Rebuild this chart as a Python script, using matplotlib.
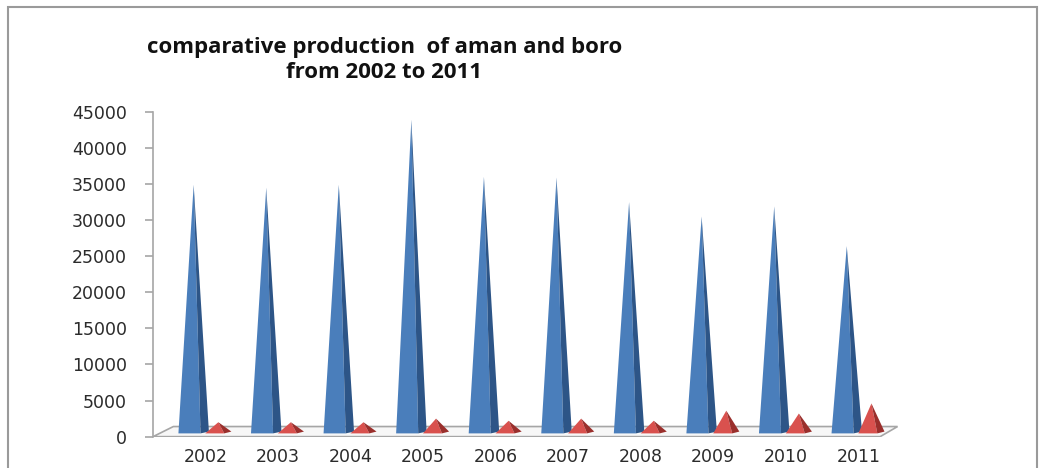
import numpy as np
import matplotlib.pyplot as plt
from matplotlib.patches import Polygon, Rectangle

# --- data ---
years = ['2002', '2003', '2004', '2005', '2006', '2007', '2008', '2009', '2010', '2011']
aman = [34900, 34500, 34900, 43900, 36000, 35900, 32500, 30500, 31900, 26400]
boro = [2000, 2000, 2000, 2500, 2200, 2500, 2200, 3600, 3200, 4600]
yticks = list(range(0, 45001, 5000))

# --- colours ---
blue_front, blue_side = '#4a7ebb', '#2d5587'
red_front, red_side = '#d9514e', '#9a2f2c'
grey = '#a6a6a6'

fig = plt.figure(figsize=(10.41, 4.68), dpi=100)
ax = fig.add_axes([0.147, 0.067, 0.718, 0.694])

x = np.arange(len(years))
floor_h = 1400      # depth of the floor plane in y units
base = 450          # where the pyramids stand on the floor


def pyramid(xc, h, half, face, side):
    # front face plus a darker right-hand face to fake the 3d look
    front = Polygon([(xc - half, base), (xc + half * 0.45, base), (xc, h)],
                    closed=True, facecolor=face, edgecolor='none', zorder=3)
    right = Polygon([(xc + half * 0.45, base), (xc + half, base + 250), (xc, h)],
                    closed=True, facecolor=side, edgecolor='none', zorder=3)
    ax.add_patch(front)
    ax.add_patch(right)


# floor of the 3d plot area
x0, x1 = -0.72, 9.3
ax.add_patch(Polygon([(x0, 0), (x0 + 0.28, floor_h), (x1 + 0.24, floor_h), (x1, 0)],
                     closed=True, facecolor='#f7f7f7', edgecolor=grey, lw=1.2, zorder=1))

for i in x:
    pyramid(i - 0.16, aman[i], 0.21, blue_front, blue_side)
    pyramid(i + 0.18, boro[i], 0.18, red_front, red_side)

ax.set_xlim(-0.72, 9.58)
ax.set_ylim(0, 45000)
ax.set_yticks(yticks)
ax.set_yticklabels([str(v) for v in yticks])
ax.set_xticks(x)
ax.set_xticklabels(years)

for s in ['top', 'right', 'bottom']:
    ax.spines[s].set_visible(False)
ax.spines['left'].set_color(grey)
ax.spines['left'].set_linewidth(1.2)
ax.tick_params(axis='y', length=6, color=grey, width=1.2, pad=13,
               labelsize=12.5, labelcolor='#2b2b2b')
ax.tick_params(axis='x', length=0, pad=8, labelsize=12.5, labelcolor='#2b2b2b')

# title
fig.text(0.369, 0.872, 'comparative production  of aman and boro\nfrom 2002 to 2011',
         ha='center', va='center', fontsize=16, fontweight='bold',
         family='Open Sans', color='#111111', linespacing=1.3)

# outer chart border
fig.add_artist(Rectangle((0.008, -0.1), 0.988, 1.085, transform=fig.transFigure,
                         fill=False, edgecolor='#9a9a9a', lw=1.5))

fig.savefig('out.png', dpi=100)
